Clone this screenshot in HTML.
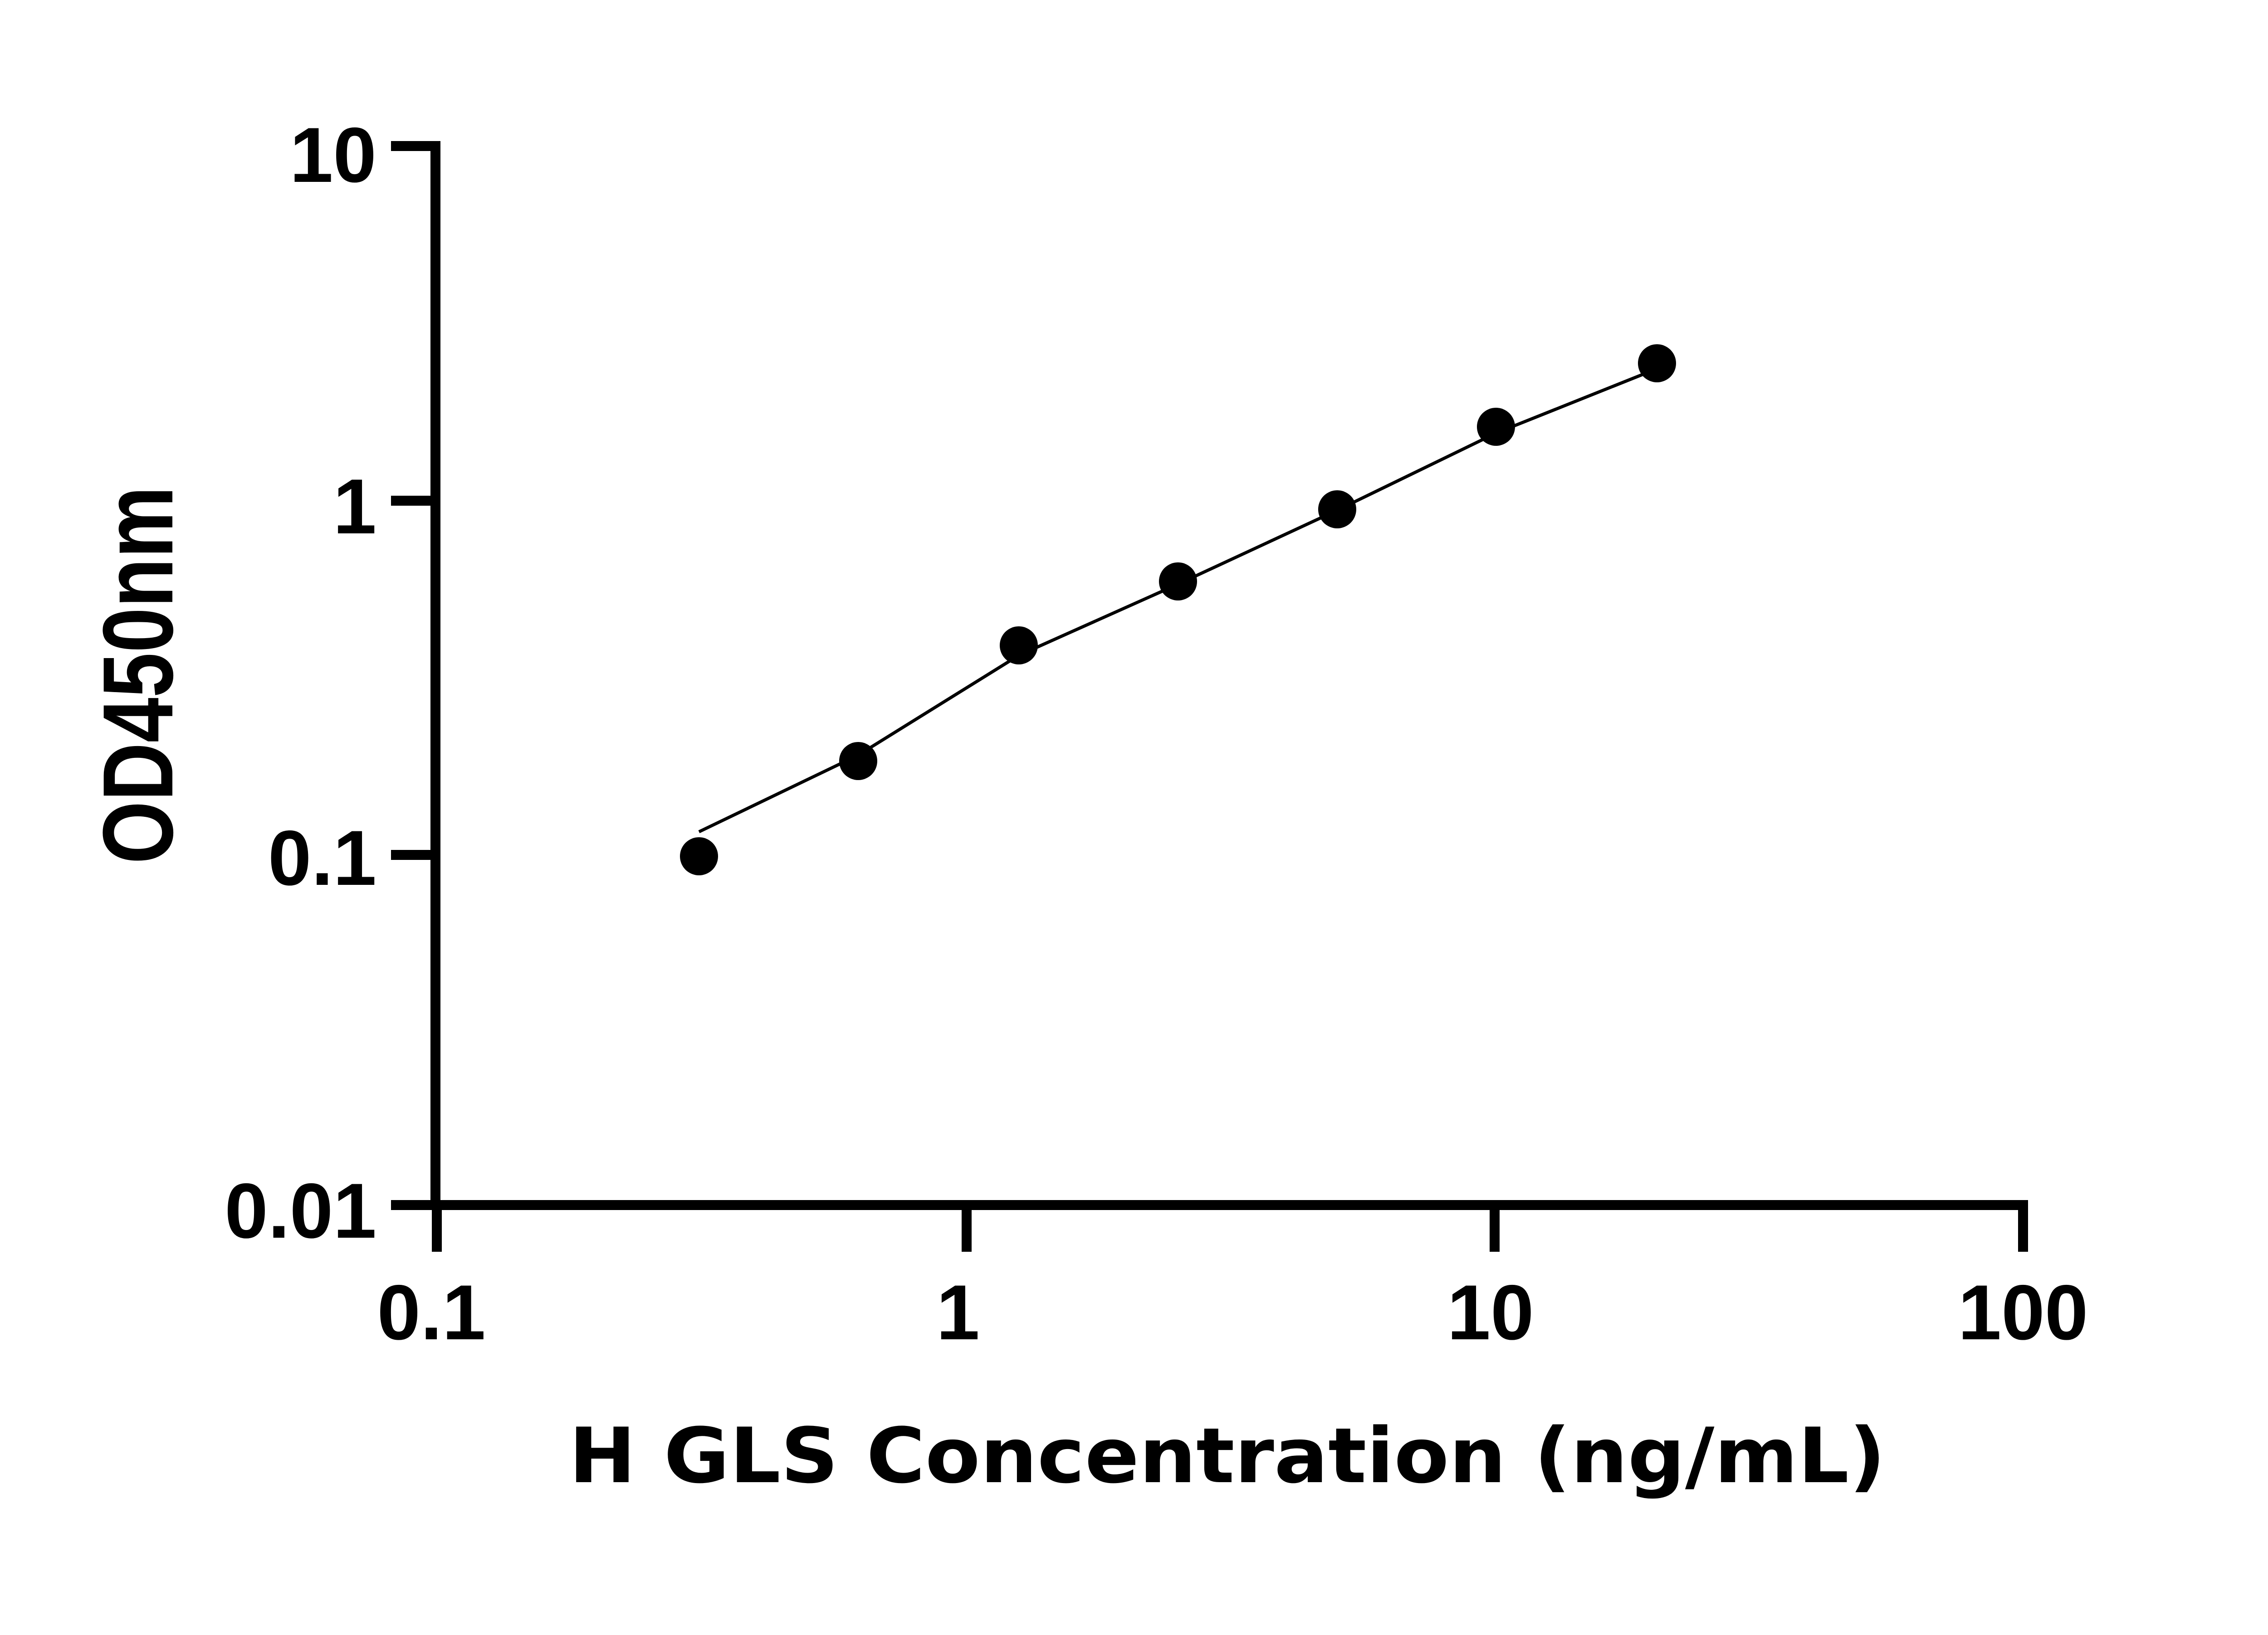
<!DOCTYPE html>
<html><head><style>html,body{margin:0;padding:0;background:#fff}</style></head>
<body>
<svg width="5142" height="3600" viewBox="0 0 5142 3600" xmlns="http://www.w3.org/2000/svg">
<rect width="5142" height="3600" fill="#fff"/>
<g stroke="#000" stroke-width="22" fill="none" stroke-linecap="butt">
  <path d="M862,322 H960 V2657 H4460 V2760"/>
  <path d="M862,1104 H960 M862,1885 H960 M862,2657 H960"/>
  <path d="M963,2657 V2760 M2131,2657 V2760 M3295,2657 V2760"/>
</g>
<polyline fill="none" stroke="#000" stroke-width="7" points="1541,1834 1892,1665 2246,1445 2597,1288 2948,1125 3298,955 3653,813"/>
<g fill="#000">
  <circle cx="1541" cy="1888" r="42"/>
  <circle cx="1892" cy="1678" r="42"/>
  <circle cx="2246" cy="1423" r="42"/>
  <circle cx="2597" cy="1282" r="42"/>
  <circle cx="2948" cy="1123" r="42"/>
  <circle cx="3298" cy="941" r="42"/>
  <circle cx="3653" cy="801" r="42"/>
</g>
<g font-family="'Liberation Sans', sans-serif" font-weight="bold" font-size="172" fill="#000">
  <g text-anchor="end">
    <text x="830" y="401">10</text>
    <text x="830" y="1176">1</text>
    <text x="830" y="1951">0.1</text>
    <text x="830" y="2729">0.01</text>
  </g>
  <g text-anchor="middle">
    <text x="951" y="2953">0.1</text>
    <text x="2112" y="2953">1</text>
    <text x="3286" y="2953">10</text>
    <text x="4460" y="2953">100</text>
  </g>
</g>
<text x="1254" y="3268" font-family="'DejaVu Sans', sans-serif" font-weight="bold" font-size="168" textLength="2903" lengthAdjust="spacingAndGlyphs">H GLS Concentration (ng/mL)</text>
<text transform="translate(380,1905) rotate(-90)" font-family="'Liberation Sans', sans-serif" font-weight="bold" font-size="220" textLength="833" lengthAdjust="spacingAndGlyphs">OD450nm</text>
</svg>
</body></html>
